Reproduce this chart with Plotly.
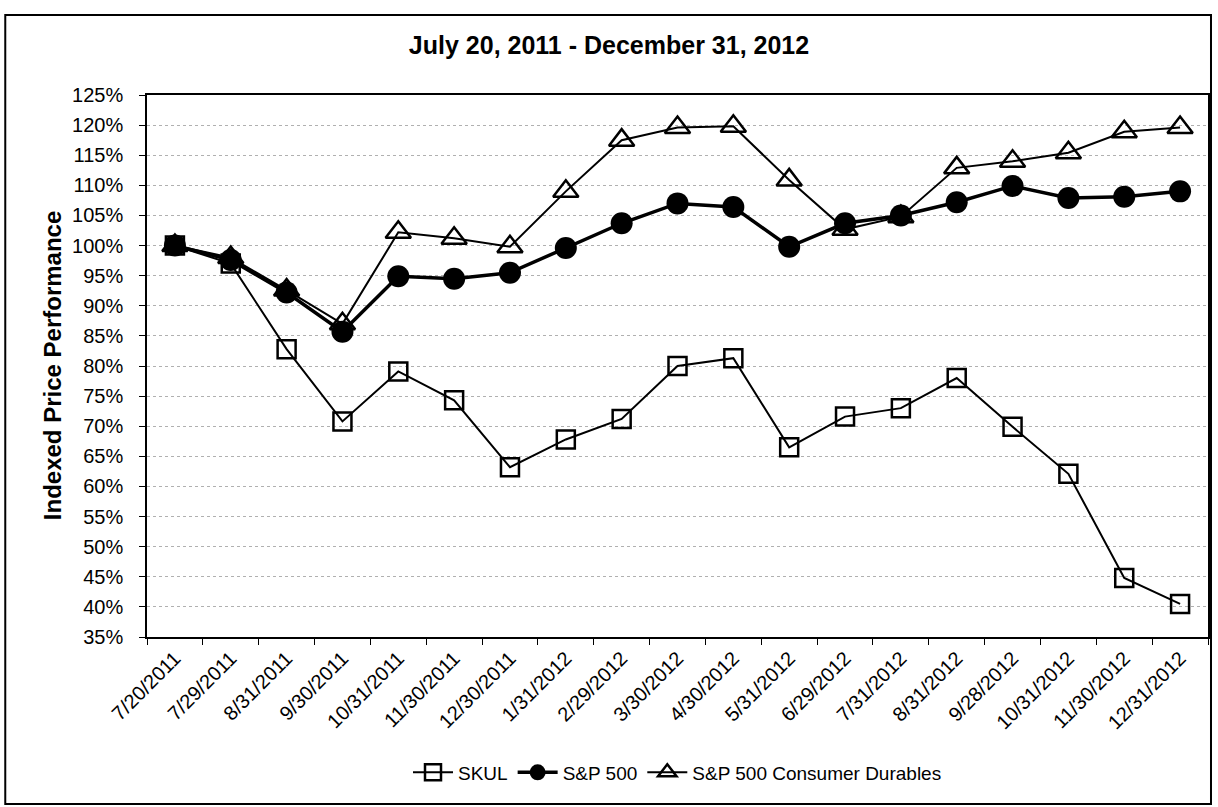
import plotly.graph_objects as go

dates = ["7/20/2011", "7/29/2011", "8/31/2011", "9/30/2011", "10/31/2011", "11/30/2011",
         "12/30/2011", "1/31/2012", "2/29/2012", "3/30/2012", "4/30/2012", "5/31/2012",
         "6/29/2012", "7/31/2012", "8/31/2012", "9/28/2012", "10/31/2012", "11/30/2012",
         "12/31/2012"]
skul = [100, 97, 82.8, 70.8, 79.1, 74.3, 63.2, 67.8, 71.2, 80.0, 81.3, 66.5,
        71.6, 73.0, 78.0, 69.9, 62.1, 44.8, 40.5]
sp500 = [100, 97.6, 92.2, 85.7, 94.9, 94.5, 95.5, 99.6, 103.7, 107.0, 106.4, 99.8,
         103.7, 105.0, 107.2, 109.9, 107.9, 108.1, 109.0]
durables = [100, 98.0, 92.6, 87.0, 102.2, 101.2, 99.8, 109.0, 117.5, 119.6, 119.8, 110.9,
            102.7, 104.8, 112.9, 114.0, 115.4, 118.9, 119.6]
y_ticks = list(range(35, 126, 5))

FONT = "Liberation Sans, Arial, sans-serif"

fig = go.Figure()
fig.add_trace(go.Scatter(
    x=dates, y=skul, name="SKUL", mode="lines+markers",
    line=dict(color="black", width=2),
    marker=dict(symbol="square-open", size=18, color="black", line=dict(width=2.5)),
))
fig.add_trace(go.Scatter(
    x=dates, y=sp500, name="S&P 500", mode="lines+markers",
    line=dict(color="black", width=3.5),
    marker=dict(symbol="circle", size=22, color="black"),
))
fig.add_trace(go.Scatter(
    x=dates, y=durables, name="S&P 500 Consumer Durables", mode="lines+markers",
    line=dict(color="black", width=2),
    marker=dict(symbol="triangle-up-open", size=22, color="black", line=dict(width=2.5)),
))

fig.update_layout(
    width=1218, height=807,
    paper_bgcolor="white", plot_bgcolor="white",
    margin=dict(l=147, r=8, t=95, b=170),
    font=dict(family=FONT, size=19, color="black"),
    title=dict(text="<b>July 20, 2011 - December 31, 2012</b>", x=0.5, xanchor="center",
               y=1 - 45 / 807, yanchor="middle", font=dict(size=25, family=FONT)),
    showlegend=True,
    legend=dict(orientation="h", x=0.5, xanchor="center", y=-0.25, yanchor="middle",
                font=dict(size=19, family=FONT), itemwidth=40, bgcolor="rgba(0,0,0,0)"),
    xaxis=dict(type="category", range=[-0.5, len(dates) - 0.5], showgrid=False,
               showline=True, linecolor="black", linewidth=1.5,
               mirror=True, ticks="outside", tickson="boundaries", ticklen=6, tickcolor="black",
               tickangle=-45, tickfont=dict(size=20, family=FONT)),
    yaxis=dict(range=[35, 125], tickvals=y_ticks, ticktext=[f"{v}%" for v in y_ticks],
               showgrid=True, gridcolor="#b0b0b0", griddash="dot", gridwidth=1,
               showline=True, linecolor="black", linewidth=1.5, mirror=True,
               ticks="outside", ticklen=6, tickcolor="black", zeroline=False,
               ticklabelstandoff=12, tickfont=dict(size=20, family=FONT)),
    annotations=[dict(text="<b>Indexed Price Performance</b>", textangle=-90,
                      xref="paper", yref="paper", x=(52 - 147) / 1063, y=0.5,
                      xanchor="center", yanchor="middle", showarrow=False,
                      font=dict(size=24, family=FONT))],
    shapes=[dict(type="rect", xref="paper", yref="paper",
                 x0=(5 - 147) / 1063, x1=(1213 - 147) / 1063,
                 y0=-(804 - 637) / 542, y1=(637 - 15) / 542,
                 line=dict(color="black", width=2))],
)

fig.write_html("out.html")
